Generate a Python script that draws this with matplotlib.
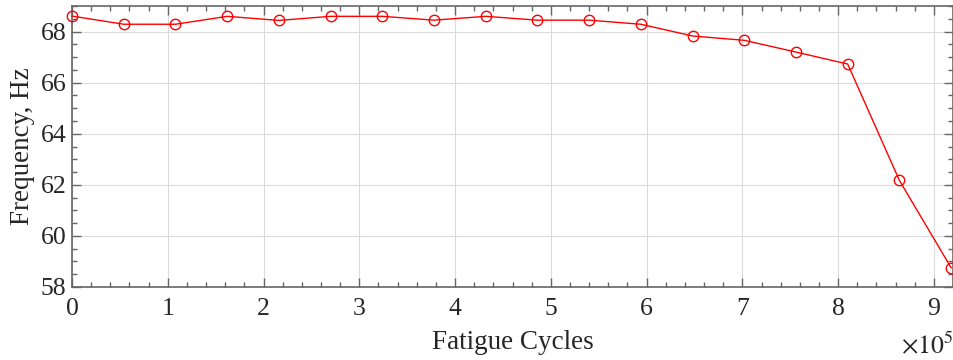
import matplotlib
matplotlib.use("Agg")
import matplotlib.pyplot as plt
from matplotlib.ticker import MultipleLocator, FuncFormatter

# fatigue cycles (x 10^5) and measured frequency, Hz
cycles = [0.00, 0.54, 1.08, 1.62, 2.16, 2.70, 3.24, 3.78, 4.32,
          4.86, 5.40, 5.94, 6.48, 7.02, 7.56, 8.10, 8.64, 9.18]
freq = [68.61, 68.29, 68.29, 68.60, 68.44, 68.60, 68.60, 68.45, 68.60,
        68.45, 68.45, 68.29, 67.83, 67.66, 67.20, 66.73, 62.17, 58.75]

plt.rcParams['font.family'] = ['Liberation Serif', 'DejaVu Serif']
plt.rcParams['mathtext.fontset'] = 'stix'
txt = '#262626'
axc = '#666666'

fig = plt.figure(figsize=(9.54, 3.6), dpi=100)
ax = fig.add_axes([0.0755, 0.203, 0.9235, 0.78])

ax.plot([c * 1e5 for c in cycles], freq, color='red', lw=1.0,
        marker='o', ms=7.5, mfc='none', mec='red', mew=1.0, clip_on=False,
        zorder=3)

ax.set_xlim(0, 9.2e5)
ax.set_ylim(58, 69)
ax.xaxis.set_major_locator(MultipleLocator(1e5))
ax.xaxis.set_minor_locator(MultipleLocator(0.2e5))
ax.yaxis.set_major_locator(MultipleLocator(2))
ax.yaxis.set_minor_locator(MultipleLocator(0.5))
ax.xaxis.set_major_formatter(FuncFormatter(lambda v, p: '%d' % round(v / 1e5)))

ax.grid(True, which='major', color='#dcdcdc', lw=0.8)
ax.set_axisbelow(True)
for s in ax.spines.values():
    s.set_color(axc)
    s.set_linewidth(1.2)
ax.tick_params(which='both', direction='in', top=True, right=True,
               colors=axc, labelcolor=txt, labelsize=18.5, width=1.0)
ax.tick_params(which='major', length=6.5)
ax.tick_params(axis='x', which='major', pad=8)
ax.tick_params(axis='y', which='major', pad=4)
ax.tick_params(which='minor', length=3.5)

ax.set_xlabel('Fatigue Cycles', fontsize=19.5, color=txt, labelpad=7)
ax.set_ylabel('Frequency, Hz', fontsize=19.5, color=txt, labelpad=4)
fig.text(0.999, 0.005, r'$\times10^{5}$', ha='right', va='bottom',
         fontsize=18.5, color=txt)

fig.savefig('out.png', dpi=100)
